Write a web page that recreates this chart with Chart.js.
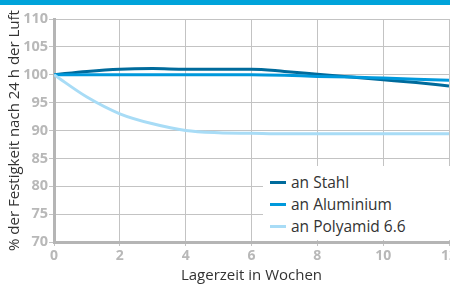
<!DOCTYPE html>
<html>
<head>
<meta charset="utf-8">
<script src="https://cdn.jsdelivr.net/npm/chart.js@4"></script>
<style>
  html, body { margin: 0; padding: 0; background: #fff; overflow: hidden; }
  #wrap { position: relative; width: 450px; height: 285px; }
  #topbar { position: absolute; left: 0; top: 0; width: 450px; height: 5px; background: #00a3da; }
  #legend { position: absolute; left: 263px; top: 166px; width: 187px; height: 74px; background: #fff;
            font-family: 'Open Sans', sans-serif; font-size: 15.5px; color: #333; }
  .item { position: absolute; left: 7px; height: 20px; line-height: 20px; white-space: nowrap; }
  .swatch { display: inline-block; width: 16px; height: 3px; vertical-align: middle; margin-right: 5px; margin-top: -2px; }
</style>
</head>
<body>
<div id="wrap">
  <canvas id="chart" width="450" height="285"></canvas>
  <div id="topbar"></div>
  <div id="legend"></div>
</div>
<script>
const weeks = [0, 1, 2, 3, 4, 5, 6, 7, 8, 9, 10, 11, 12];
const stahl = [100, 100.6, 101, 101.1, 101, 101, 101, 100.6, 100.1, 99.6, 99.1, 98.6, 98];
const aluminium = [100, 100, 100, 100, 100, 100, 100, 99.9, 99.7, 99.6, 99.4, 99.2, 99];
const polyamid = [100, 96, 93, 91.2, 90, 89.6, 89.5, 89.4, 89.4, 89.4, 89.4, 89.4, 89.4];
const seriesNames = ['an Stahl', 'an Aluminium', 'an Polyamid 6.6'];
const seriesColors = ['#006b9c', '#0099dc', '#a8dcf6'];

const gridGray = '#c3c3c3';
const tickGray = '#b8b8b8';
const font = "'Open Sans', sans-serif";

function toPoints(values) {
    return values.map((v, i) => ({ x: weeks[i], y: v }));
}

const seriesValues = [stahl, aluminium, polyamid];

const chart = new Chart(document.getElementById('chart').getContext('2d'), {
    type: 'line',
    data: {
        datasets: seriesValues.map((vals, i) => ({
            label: seriesNames[i],
            data: toPoints(vals),
            borderColor: seriesColors[i],
            borderWidth: 3,
            pointRadius: 0,
            cubicInterpolationMode: 'monotone',
            fill: false
        })).reverse()
    },
    options: {
        responsive: false,
        animation: false,
        layout: { padding: { top: 19, right: 1, left: 0, bottom: 0 } },
        plugins: {
            legend: { display: false },
            tooltip: { enabled: false }
        },
        scales: {
            x: {
                type: 'linear',
                min: 0,
                max: 12,
                ticks: { stepSize: 2, color: tickGray, font: { family: font, size: 14, weight: 'bold' }, padding: 2 },
                grid: { color: gridGray, lineWidth: 1, tickLength: 4 },
                border: { color: '#b5b5b5', width: 3 },
                title: { display: true, text: 'Lagerzeit in Wochen', color: '#333', font: { family: font, size: 15 }, padding: { top: 0, bottom: 0 } },
                afterFit(scale) {
                    scale.height = 43;
                    scale.paddingLeft = 0;
                    scale.paddingRight = 0;
                }
            },
            y: {
                min: 70,
                max: 110,
                ticks: { stepSize: 5, color: tickGray, font: { family: font, size: 14.5, weight: 'bold' }, padding: 1 },
                grid: { color: gridGray, lineWidth: 1, tickLength: 5 },
                border: { color: '#b5b5b5', width: 3 },
                title: { display: true, text: '% der Festigkeit nach 24 h der Luft', color: '#333', font: { family: font, size: 15 }, padding: { top: 6, bottom: 0 } },
                afterFit(scale) {
                    scale.width = 54;
                    scale.paddingTop = 0;
                    scale.paddingBottom = 0;
                }
            }
        }
    }
});

const legendEl = document.getElementById('legend');
seriesNames.forEach((name, i) => {
    const item = document.createElement('div');
    item.className = 'item';
    item.style.top = (6 + i * 22) + 'px';
    const sw = document.createElement('span');
    sw.className = 'swatch';
    sw.style.background = seriesColors[i];
    item.appendChild(sw);
    item.appendChild(document.createTextNode(name));
    legendEl.appendChild(item);
});
</script>
</body>
</html>
